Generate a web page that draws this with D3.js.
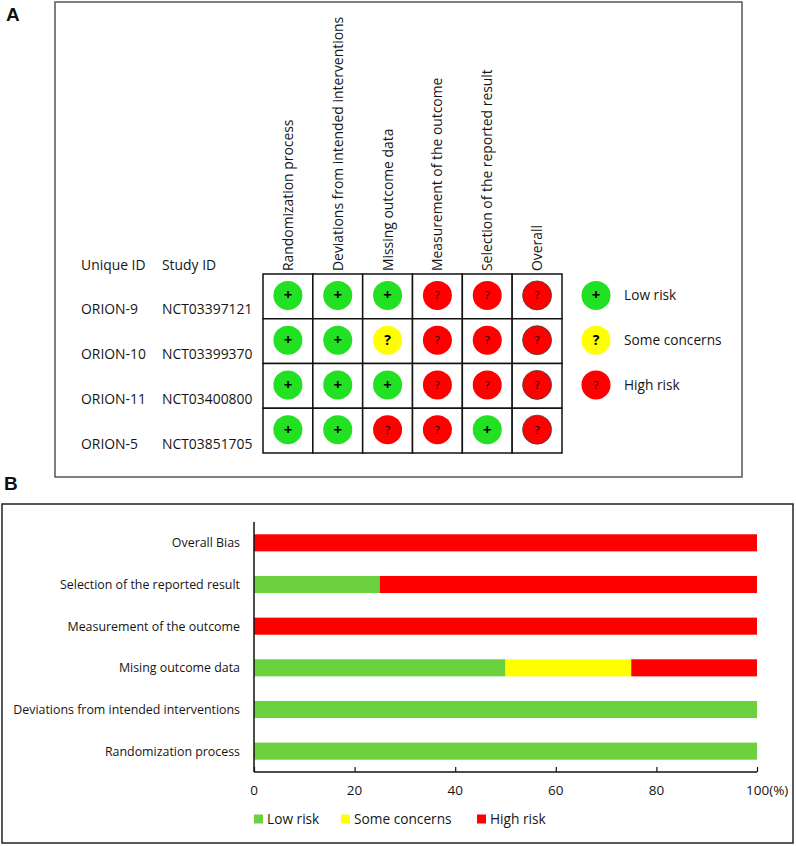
<!DOCTYPE html>
<html>
<head>
<meta charset="utf-8">
<script src="https://cdn.jsdelivr.net/npm/d3@7"></script>
<style>
  body { margin: 0; background: #fff; }
  svg text { font-family: "Open Sans", sans-serif; fill: #151515; }
</style>
</head>
<body>
<div id="chart"></div>
<script>
// Panel A : tableau des jugements par étude
const studies = ["ORION-9", "ORION-10", "ORION-11", "ORION-5"];
const studyIds = ["NCT03397121", "NCT03399370", "NCT03400800", "NCT03851705"];
const domains = [
    "Randomization process",
    "Deviations from intended interventions",
    "Missing outcome data",
    "Measurement of the outcome",
    "Selection of the reported result",
    "Overall"
];
const judgements = [
    ["low", "low", "low", "high", "high", "high"],
    ["low", "low", "some", "high", "high", "high"],
    ["low", "low", "low", "high", "high", "high"],
    ["low", "low", "high", "high", "low", "high"]
];
const riskKeys = ["low", "some", "high"];
const riskLabels = ["Low risk", "Some concerns", "High risk"];

// Panel B : pourcentages par domaine
const summaryDomains = [
    "Overall Bias",
    "Selection of the reported result",
    "Measurement of the outcome",
    "Mising outcome data",
    "Deviations from intended interventions",
    "Randomization process"
];
const lowPct = [0, 25, 0, 50, 100, 100];
const somePct = [0, 0, 0, 25, 0, 0];
const highPct = [100, 75, 100, 25, 0, 0];
const xTicks = [0, 20, 40, 60, 80, 100];

const svg = d3.select("#chart")
    .append("svg")
    .attr("width", 796)
    .attr("height", 846);

// taille et graisse du symbole dans chaque pastille
const symSize = { low: "15px", some: "14px", high: "11px" };
const symWeight = { low: "bold", some: "bold", high: "normal" };
const symDy = { low: 5, some: 5, high: 4 };

/**
 * Panel A
 */
function drawPanelA() {
    const dotColor = { low: "#22e022", some: "#ffff00", high: "#ff0000" };
    const dotSymbol = { low: "+", some: "?", high: "?" };

    svg.append("text").attr("x", 6).attr("y", 21)
        .style("font-family", "Arial, 'Liberation Sans', sans-serif")
        .style("font-weight", "bold").style("font-size", "19px").style("fill", "#111")
        .text("A");

    svg.append("rect")
        .attr("x", 55).attr("y", 2).attr("width", 687).attr("height", 475)
        .attr("fill", "none").attr("stroke", "#555").attr("stroke-width", 1.5);

    const x = d3.scaleBand().domain(domains).range([263, 562]);
    const y = d3.scaleBand().domain(studies).range([274, 453]);

    const g = svg.append("g");

    // en-têtes verticaux
    g.selectAll(".colhead")
        .data(domains)
        .enter()
        .append("text")
        .attr("transform", d => `translate(${x(d) + x.bandwidth() / 2 + 5},271) rotate(-90)`)
        .style("font-size", "13.9px")
        .text(d => d);

    g.append("text").attr("x", 81).attr("y", 270).style("font-size", "13.9px").text("Unique ID");
    g.append("text").attr("x", 162).attr("y", 270).style("font-size", "13.9px").text("Study ID");

    g.selectAll(".rowlab")
        .data(studies)
        .enter()
        .append("text")
        .attr("x", 81)
        .attr("y", d => y(d) + y.bandwidth() / 2 + 18)
        .style("font-size", "13.9px")
        .text(d => d);

    g.selectAll(".rowid")
        .data(studies)
        .enter()
        .append("text")
        .attr("x", 162)
        .attr("y", d => y(d) + y.bandwidth() / 2 + 18)
        .style("font-size", "13.9px")
        .text((d, i) => studyIds[i]);

    const cells = judgements.flatMap((row, i) => row.map((v, j) => ({ study: studies[i], domain: domains[j], value: v })));

    g.selectAll(".cell")
        .data(cells)
        .enter()
        .append("rect")
        .attr("x", d => x(d.domain))
        .attr("y", d => y(d.study))
        .attr("width", x.bandwidth())
        .attr("height", y.bandwidth())
        .attr("fill", "#fff")
        .attr("stroke", "#111")
        .attr("stroke-width", 1.5);

    g.selectAll(".dot")
        .data(cells)
        .enter()
        .append("circle")
        .attr("cx", d => x(d.domain) + x.bandwidth() / 2)
        .attr("cy", d => y(d.study) + y.bandwidth() / 2 - 1)
        .attr("r", 14.5)
        .attr("fill", d => dotColor[d.value])
        .attr("stroke", d => d.domain === "Overall" ? "#444" : "none")
        .attr("stroke-width", 0.8);

    g.selectAll(".sym")
        .data(cells)
        .enter()
        .append("text")
        .attr("x", d => x(d.domain) + x.bandwidth() / 2)
        .attr("y", d => y(d.study) + y.bandwidth() / 2 - 1 + symDy[d.value])
        .attr("text-anchor", "middle")
        .style("font-size", d => symSize[d.value])
        .style("font-weight", d => symWeight[d.value])
        .style("fill", "#000")
        .text(d => dotSymbol[d.value]);

    // légende
    const leg = g.selectAll(".legA")
        .data(riskKeys)
        .enter()
        .append("g")
        .attr("transform", (d, i) => `translate(596,${y(studies[i]) + y.bandwidth() / 2 - 1})`);

    leg.append("circle").attr("r", 14.5).attr("fill", d => dotColor[d]);
    leg.append("text")
        .attr("text-anchor", "middle").attr("y", d => symDy[d])
        .style("font-size", d => symSize[d])
        .style("font-weight", d => symWeight[d])
        .style("fill", "#000")
        .text(d => dotSymbol[d]);
    leg.append("text")
        .attr("x", 28).attr("y", 5)
        .style("font-size", "13.7px")
        .text((d, i) => riskLabels[i]);
}

/**
 * Panel B
 */
function drawPanelB() {
    const barColor = { low: "#6bd13f", some: "#ffff00", high: "#ff0000" };

    svg.append("text").attr("x", 4).attr("y", 490)
        .style("font-family", "Arial, 'Liberation Sans', sans-serif")
        .style("font-weight", "bold").style("font-size", "19px").style("fill", "#111")
        .text("B");

    svg.append("rect")
        .attr("x", 2).attr("y", 504).attr("width", 791).attr("height", 339)
        .attr("fill", "none").attr("stroke", "#222").attr("stroke-width", 1.5);

    const x = d3.scaleLinear().domain([0, 100]).range([254, 757]);
    const y = d3.scaleBand().domain(summaryDomains).range([522, 772])
        .paddingInner(0.59).paddingOuter(0.295);

    const stackData = summaryDomains.map((d, i) => ({ domain: d, low: lowPct[i], some: somePct[i], high: highPct[i] }));
    const series = d3.stack().keys(riskKeys)(stackData);

    svg.append("g")
        .selectAll("g")
        .data(series)
        .enter()
        .append("g")
        .attr("fill", s => barColor[s.key])
        .selectAll("rect")
        .data(s => s)
        .enter()
        .append("rect")
        .attr("x", d => x(d[0]))
        .attr("y", d => y(d.data.domain))
        .attr("width", d => x(d[1]) - x(d[0]))
        .attr("height", y.bandwidth());

    // étiquettes de l'axe y
    svg.append("g")
        .selectAll("text")
        .data(summaryDomains)
        .enter()
        .append("text")
        .attr("x", 240)
        .attr("y", d => y(d) + y.bandwidth() / 2 + 4.5)
        .attr("text-anchor", "end")
        .style("font-size", "12.4px")
        .text(d => d);

    svg.append("line")
        .attr("x1", 254).attr("x2", 254).attr("y1", 522).attr("y2", 772)
        .attr("stroke", "#111").attr("stroke-width", 1.5);

    const xAxis = svg.append("g")
        .attr("transform", "translate(0,772)")
        .call(d3.axisTop(x).tickValues(xTicks).tickSize(5).tickFormat(""));
    xAxis.select(".domain").attr("stroke", "#111").attr("stroke-width", 1.5)
        .attr("d", `M${x(0)},0H${x(100)}`);
    xAxis.selectAll(".tick line").attr("stroke", "#111").attr("stroke-width", 1.2);

    svg.append("g")
        .selectAll("text")
        .data(xTicks)
        .enter()
        .append("text")
        .attr("x", d => x(d))
        .attr("y", 795)
        .attr("text-anchor", d => d === 100 ? "start" : "middle")
        .attr("dx", d => d === 100 ? -11 : 0)
        .style("font-size", "13.5px")
        .text(d => d === 100 ? "100(%)" : d);

    // légende
    const legX = [254, 341, 477];
    const leg = svg.append("g")
        .selectAll("g")
        .data(riskKeys)
        .enter()
        .append("g")
        .attr("transform", (d, i) => `translate(${legX[i]},819)`);
    leg.append("rect").attr("x", 0).attr("y", -4.5).attr("width", 9).attr("height", 9)
        .attr("fill", d => barColor[d]);
    leg.append("text").attr("x", 13).attr("y", 5)
        .style("font-size", "13.7px")
        .text((d, i) => riskLabels[i]);
}

drawPanelA();
drawPanelB();
</script>
</body>
</html>
